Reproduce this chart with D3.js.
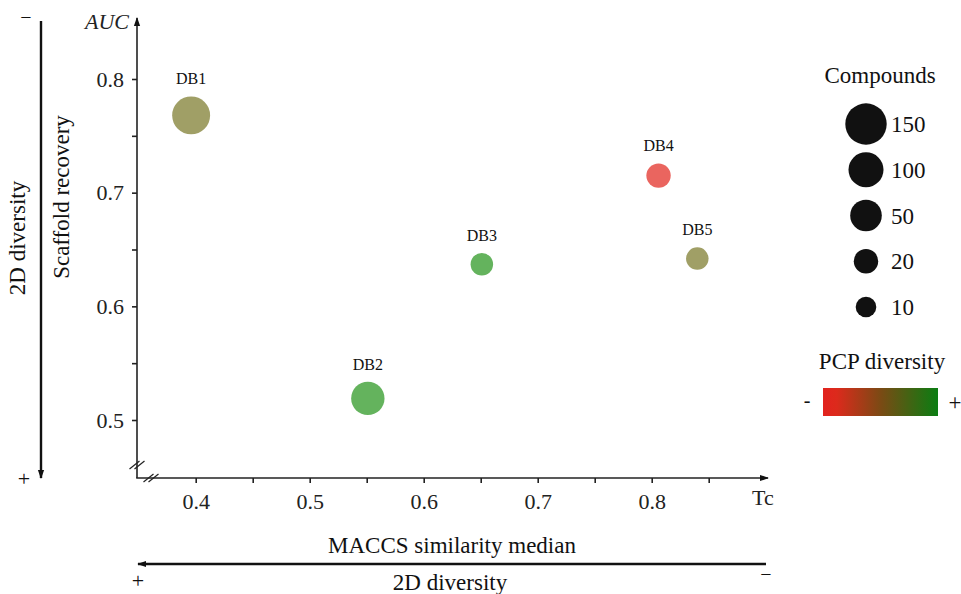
<!DOCTYPE html>
<html>
<head>
<meta charset="utf-8">
<script src="https://cdn.jsdelivr.net/npm/d3@7"></script>
<style>
  body { margin: 0; background: #fff; }
</style>
</head>
<body>
<svg id="chart" width="961" height="594"></svg>
<script>
// Data
const databases = ["DB1", "DB2", "DB3", "DB4", "DB5"]
const similarity = [0.396, 0.551, 0.651, 0.806, 0.840]   // MACCS similarity median (Tc)
const auc = [0.768, 0.519, 0.637, 0.715, 0.642]           // scaffold recovery AUC
const compounds = [123, 76, 15, 20, 15]
const pcp = [0.5, 0.95, 0.95, 0.05, 0.5]                   // 0 = low, 1 = high PCP diversity

const sizeLegend = [150, 100, 50, 20, 10]
const xTicks = [0.4, 0.45, 0.5, 0.55, 0.6, 0.65, 0.7, 0.75, 0.8, 0.85]
const yTicks = [0.5, 0.55, 0.6, 0.65, 0.7, 0.75, 0.8]

const FONT = "'Liberation Serif', 'Times New Roman', 'DejaVu Serif', serif"

const svg = d3.select("#chart")

const x = d3.scaleLinear().domain([0.4, 0.8]).range([195.7, 651.7])
const y = d3.scaleLinear().domain([0.5, 0.8]).range([420, 79])
const r = d3.scaleLinear().domain([10, 20, 50, 100, 150]).range([10.3, 12.2, 15.8, 17.5, 20.7])
const color = d3.scaleLinear().domain([0, 0.5, 1]).range(["#f25e5e", "#a09f66", "#5db55c"])

const X0 = 137, Y0 = 478, XEND = 768, YEND = 18

// arrow heads
const defs = svg.append("defs")
defs.append("marker")
  .attr("id", "arrow")
  .attr("viewBox", "0 0 10 10")
  .attr("refX", 9).attr("refY", 5)
  .attr("markerWidth", 9).attr("markerHeight", 9)
  .attr("markerUnits", "userSpaceOnUse")
  .attr("orient", "auto")
  .append("path").attr("d", "M0,1.5 L10,5 L0,8.5 Z").attr("fill", "#111")

// Axes
const fmt = (d) => (Math.round(d * 100) % 10 === 0 ? d3.format(".1f")(d) : "")

const yAxis = svg.append("g")
  .attr("transform", `translate(${X0},0)`)
  .call(d3.axisLeft(y).tickValues(yTicks).tickSize(5).tickPadding(8).tickFormat(fmt))
const xAxis = svg.append("g")
  .attr("transform", `translate(0,${Y0})`)
  .call(d3.axisBottom(x).tickValues(xTicks).tickSize(5).tickPadding(10).tickFormat(fmt))

;[xAxis, yAxis].forEach((g) => {
  g.select(".domain").remove()
  g.selectAll(".tick line").attr("stroke", "#222").attr("stroke-width", 1.6)
  g.selectAll(".tick text").attr("font-size", 22).attr("fill", "#222")
})

svg.append("line")
  .attr("x1", X0).attr("y1", Y0).attr("x2", X0).attr("y2", YEND)
  .attr("stroke", "#222").attr("stroke-width", 1.6).attr("marker-end", "url(#arrow)")
svg.append("line")
  .attr("x1", X0 - 0.8).attr("y1", Y0).attr("x2", XEND).attr("y2", Y0)
  .attr("stroke", "#222").attr("stroke-width", 1.6).attr("marker-end", "url(#arrow)")

// axis break marks
const breaks = [[X0, 465], [151, Y0]]
breaks.forEach(([bx, by]) => {
  ;[-2.5, 2.5].forEach((o) => {
    svg.append("line")
      .attr("x1", bx - 5 + o).attr("y1", by + 4)
      .attr("x2", bx + 5 + o).attr("y2", by - 4)
      .attr("stroke", "#222").attr("stroke-width", 1.3)
  })
})

svg.append("text").attr("x", 129).attr("y", 29).attr("text-anchor", "end")
  .attr("font-size", 22).attr("font-style", "italic").attr("fill", "#222").text("AUC")
svg.append("text").attr("x", 752).attr("y", 505)
  .attr("font-size", 22).attr("fill", "#222").text("Tc")

// Points
const pts = svg.append("g")
databases.forEach((name, i) => {
  const cx = x(similarity[i]), cy = y(auc[i]), rad = r(compounds[i])
  pts.append("circle").attr("cx", cx).attr("cy", cy).attr("r", rad).attr("fill", color(pcp[i]))
  pts.append("text").attr("x", cx).attr("y", cy - rad - 12).attr("text-anchor", "middle")
    .attr("font-size", 16).attr("fill", "#111").text(name)
})

// Left-side annotations
svg.append("text")
  .attr("transform", "translate(69,197) rotate(-90)")
  .attr("text-anchor", "middle").attr("font-size", 23).attr("fill", "#111").text("Scaffold recovery")
svg.append("text")
  .attr("transform", "translate(25,238) rotate(-90)")
  .attr("text-anchor", "middle").attr("font-size", 23).attr("fill", "#111").text("2D diversity")
svg.append("line")
  .attr("x1", 41).attr("y1", 21).attr("x2", 41).attr("y2", 478)
  .attr("stroke", "#111").attr("stroke-width", 2.4).attr("marker-end", "url(#arrow)")
svg.append("text").attr("x", 26).attr("y", 24).attr("text-anchor", "middle")
  .attr("font-size", 20).attr("fill", "#111").text("−")
svg.append("text").attr("x", 24).attr("y", 486).attr("text-anchor", "middle")
  .attr("font-size", 22).attr("fill", "#111").text("+")

// Bottom annotations
svg.append("text").attr("x", 452).attr("y", 553).attr("text-anchor", "middle")
  .attr("font-size", 23).attr("fill", "#111").text("MACCS similarity median")
svg.append("line")
  .attr("x1", 766).attr("y1", 564).attr("x2", 138).attr("y2", 564)
  .attr("stroke", "#111").attr("stroke-width", 2.4).attr("marker-end", "url(#arrow)")
svg.append("text").attr("x", 450).attr("y", 590).attr("text-anchor", "middle")
  .attr("font-size", 23).attr("fill", "#111").text("2D diversity")
svg.append("text").attr("x", 138).attr("y", 588).attr("text-anchor", "middle")
  .attr("font-size", 22).attr("fill", "#111").text("+")
svg.append("text").attr("x", 766).attr("y", 581).attr("text-anchor", "middle")
  .attr("font-size", 20).attr("fill", "#111").text("−")

// Size legend
const legY = d3.scalePoint().domain(sizeLegend).range([124, 307])
svg.append("text").attr("x", 880).attr("y", 83).attr("text-anchor", "middle")
  .attr("font-size", 23).attr("fill", "#111").text("Compounds")
sizeLegend.forEach((v) => {
  svg.append("circle").attr("cx", 866).attr("cy", legY(v)).attr("r", r(v)).attr("fill", "#111")
  svg.append("text").attr("x", 891).attr("y", legY(v) + 8)
    .attr("font-size", 23).attr("fill", "#111").text(v)
})

// PCP diversity legend
const grad = defs.append("linearGradient").attr("id", "pcp")
grad.append("stop").attr("offset", "0%").attr("stop-color", "#e2231e")
grad.append("stop").attr("offset", "12%").attr("stop-color", "#dc2a1c")
grad.append("stop").attr("offset", "50%").attr("stop-color", "#7b4a14")
grad.append("stop").attr("offset", "100%").attr("stop-color", "#0a7d12")
svg.append("text").attr("x", 882).attr("y", 369).attr("text-anchor", "middle")
  .attr("font-size", 23).attr("fill", "#111").text("PCP diversity")
svg.append("rect").attr("x", 823).attr("y", 388).attr("width", 115).attr("height", 28)
  .attr("fill", "url(#pcp)")
svg.append("text").attr("x", 807).attr("y", 407).attr("text-anchor", "middle")
  .attr("font-size", 20).attr("fill", "#111").text("-")
svg.append("text").attr("x", 955).attr("y", 410).attr("text-anchor", "middle")
  .attr("font-size", 23).attr("fill", "#111").text("+")

// serif everywhere, including the axis groups
svg.selectAll("g").attr("font-family", FONT)
svg.selectAll("text").attr("font-family", FONT).style("font-family", FONT)
</script>
</body>
</html>
